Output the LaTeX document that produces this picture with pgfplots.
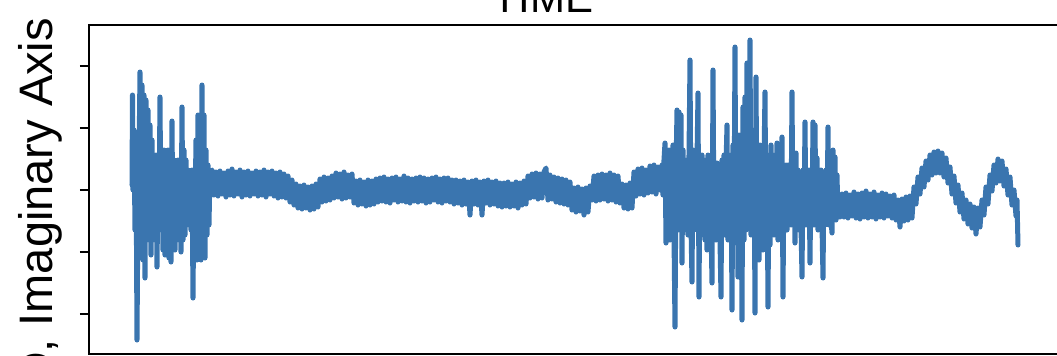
\documentclass[border=0pt]{standalone}
\usepackage{pgfplots}
\pgfplotsset{compat=1.18}
\usepackage{fontspec}
\setmainfont{Liberation Sans}
\definecolor{sigblue}{RGB}{58,117,175}
\begin{document}
\begin{tikzpicture}[x=1pt,y=1pt]
\begin{axis}[
  at={(0,0)}, anchor=south west,
  scale only axis,
  width=485.5pt, height=164.5pt,
  xmin=89, xmax=1060,
  ymin=-164, ymax=165,
  xtick=\empty,
  ytick={-124,-62,0,62,124},
  yticklabels={},
  ytick pos=left,
  tick align=outside,
  major tick length=4.5pt,
  every tick/.style={black, line width=0.75pt},
  axis line style={black, line width=1pt},
]
\addplot[sigblue, line width=2.5pt, line join=round, line cap=round] coordinates {
(132,5) (132.5,95) (133,0) (134,60) (135,-40) (136,40) (137,-150) (138,-10) (139,30) (140,118)
(141,-40) (142,105) (143,-70) (144,95) (145,-88) (146,90) (147,-50) (148,80) (149,-40) (150,65)
(151,-65) (152,50) (153,-30) (154,20) (155,-50) (156,35) (157,-77) (158,15) (159,-25) (160,93)
(161,-40) (162,20) (163,-60) (164,40) (165,-65) (166,25) (167,-50) (168,40) (169,-68) (170,30)
(171,-72) (172,69) (173,-55) (174,30) (175,-60) (176,25) (177,-50) (178,30) (179,-40) (180,20)
(181,-62) (182,83) (183,-50) (184,40) (185,-45) (186,30) (187,-35) (188,20) (189,-25) (190,15)
(191,-40) (192,20) (193,-108) (194,10) (195,-25) (196,50) (197,-70) (198,75) (199,-50) (200,55)
(201,-70) (202,105) (203,-60) (204,75) (205,-68) (206,40) (207,-45) (208,25) (209,-35) (210,18)
(212,20) (214,-5) (216,18) (218,-6) (220,19) (222,-4) (224,17) (226,-7) (228,19) (230,-5)
(232,21) (234,-6) (236,18) (238,-4) (240,20) (242,-7) (244,18) (246,-5) (248,19) (250,-6)
(252,17) (254,-4) (256,19) (258,-6) (260,18) (262,-5) (264,20) (266,-7) (268,18) (270,-4)
(272,19) (274,-6) (276,17) (278,-8) (280,18) (282,-7) (284,16)
(286,-8) (288,14) (290,-12) (292,10) (294,-15) (296,6) (298,-18)
(300,4) (302,-19) (304,5) (306,-18) (308,3) (310,-20) (312,4) (314,-19) (316,6) (318,-17)
(320,11) (322,-12) (324,13) (326,-11) (328,12) (330,-10) (332,14)
(334,-8) (336,17) (338,-7) (340,16) (342,-9) (344,18) (346,-8) (348,15) (350,-7) (352,16)
(354,-13) (356,9) (358,-15) (360,10) (362,-14) (364,8) (366,-16) (368,10) (370,-15) (372,9) (374,-14) (376,11)
(378,-12) (380,12) (382,-11) (384,13) (386,-12) (388,11) (390,-13) (392,12) (394,-10) (396,13)
(398,-12) (400,11) (402,-11) (404,14) (406,-12) (408,12) (410,-13) (412,11) (414,-11) (416,12)
(418,-12) (420,13) (422,-11) (424,12) (426,-13) (428,11) (430,-12) (432,12) (434,-10) (436,13)
(438,-12) (440,11) (442,-13) (444,12) (446,-11) (448,12) (450,-12) (452,10)
(454,-14) (456,10) (458,-13) (460,9) (462,-15) (464,10) (466,-14) (468,8) (470,-25) (472,9)
(474,-14) (476,10) (478,-15) (480,8) (482,-25) (484,9) (486,-13) (488,10) (490,-15) (492,8)
(494,-14) (496,9) (498,-16) (500,7)
(502,-17) (504,7) (506,-16) (508,8) (510,-17) (512,6) (514,-16) (516,8) (518,-18) (520,7) (522,-15) (524,9) (526,-14)
(528,14) (530,-8) (532,16) (534,-7) (536,17) (538,-9) (540,16) (542,-8) (544,18) (546,22) (548,-10) (550,15) (552,-9)
(554,13) (556,-12) (558,12) (560,-13) (562,11) (564,-14) (566,10) (568,-15) (570,8)
(572,-20) (574,2) (576,-22) (578,3) (580,-21) (582,1) (584,-25) (586,2) (588,-22) (590,4)
(592,-10) (594,14) (596,-11) (598,15) (600,-10) (602,16) (604,-9) (606,15) (608,-11) (610,17)
(612,-10) (614,15) (616,-12) (618,14) (620,-13)
(622,6) (624,-18) (626,5) (628,-19) (630,7) (632,-18)
(634,18) (636,-6) (638,21) (640,-4) (642,22) (644,-5) (646,20) (648,-3) (650,24) (652,-2)
(654,25) (656,-4) (658,23) (660,0)
(662,25) (663,-5) (664,30) (665,47) (666,-53) (667,30) (668,-40) (669,40) (670,-50)
(671,25) (672,-35) (673,45) (674,-45) (675,-137) (676,20) (677,80) (678,-40) (679,78) (680,-35)
(681,75) (682,-73) (683,40) (684,-40) (685,30) (686,-30) (687,25) (688,-45) (689,35) (690,130)
(691,-35) (692,-92) (693,40) (694,-40) (695,35) (696,-35) (697,30) (698,97) (699,-107) (700,30)
(701,-45) (702,35) (703,-40) (704,30) (705,-50) (706,25) (707,-60) (708,35) (709,-40) (710,30)
(711,-35) (712,-93) (713,120) (714,-40) (715,25) (716,-50) (717,27) (718,-35) (719,20) (720,-50)
(721,-107) (722,30) (723,-35) (724,35) (725,-45) (726,25) (727,65) (728,-50) (729,35) (730,-40)
(731,30) (732,-120) (733,45) (734,-35) (735,143) (736,-50) (737,40) (738,-87) (739,55) (740,-45)
(741,30) (742,-130) (743,83) (744,-50) (745,93) (746,-40) (747,127) (748,-35) (749,45) (750,150)
(751,-45) (752,60) (753,-40) (754,50) (755,-123) (756,113) (757,-45) (758,40) (759,-70) (760,45)
(761,-40) (762,35) (763,-60) (764,30) (765,98) (766,-45) (767,30) (768,-117) (769,35) (770,-55)
(771,45) (772,-35) (773,35) (774,-45) (775,25) (776,-35) (777,47) (778,-50) (779,25) (780,-35)
(781,30) (782,53) (783,-107) (784,20) (785,-30) (786,25) (787,-40) (788,25) (789,-30) (790,25)
(791,-35) (792,98) (793,-35) (794,20) (795,-53) (796,37) (797,-30) (798,20) (799,-40) (800,15)
(801,-35) (802,-87) (803,20) (804,-30) (805,68) (806,-35) (807,15) (808,-30) (809,20) (810,-73)
(811,20) (812,-35) (813,68) (814,-35) (815,65) (816,-30) (817,32) (818,-40) (819,15) (820,-30)
(821,20) (822,-35) (823,-88) (824,15) (825,-35) (826,20) (827,-30) (828,63) (829,-35) (830,15)
(831,-30) (832,-43) (833,40) (834,-30) (835,33) (836,-30) (837,15) (838,-25) (839,-5) (840,-27)
(842,-4) (844,-27) (846,-3) (848,-28) (850,-5) (852,-26) (854,-2) (856,-28) (858,-4) (860,-29)
(862,-3) (864,-27) (866,-1) (868,-28) (870,-4) (872,-27) (874,-2) (876,-29) (878,-5) (880,-27)
(882,-3) (884,-28) (886,-4) (888,-26) (890,-6) (892,-28) (894,-5) (896,-30)
(898,-10) (900,-37) (902,-9) (904,-31) (906,-7) (908,-30) (910,-6) (912,-28)
(914,3) (916,-14) (918,13) (920,-4) (922,22) (924,3) (926,29) (928,10) (930,35) (932,15)
(934,38) (936,17) (938,39) (940,17) (942,37) (944,13) (946,32) (948,7) (950,23) (952,-4)
(954,14) (956,-13) (958,5) (960,-22) (962,-3) (964,-29) (966,-10) (968,-34) (970,-14) (972,-38)
(974,-17) (976,-44) (978,-18) (980,-37) (982,-10) (984,-25) (986,3) (988,-14) (990,15) (992,-1)
(994,25) (996,7) (998,31) (1000,9) (1002,29) (1004,4) (1006,21) (1008,-5) (1010,13) (1012,-15)
(1014,0) (1016,-26) (1017,-10) (1018,-55)
};
\end{axis}
\node[font=\fontsize{21}{25}\selectfont, anchor=base] at (227pt,171pt) {TIME};
\node[font=\fontsize{23.5}{28}\selectfont, rotate=90, anchor=base east] at (-18pt,171.5pt) {Q, Imaginary Axis};
\pgfresetboundingbox
\path[use as bounding box] (-44.5pt,-0.5pt) rectangle (484pt,177pt);
\end{tikzpicture}
\end{document}
